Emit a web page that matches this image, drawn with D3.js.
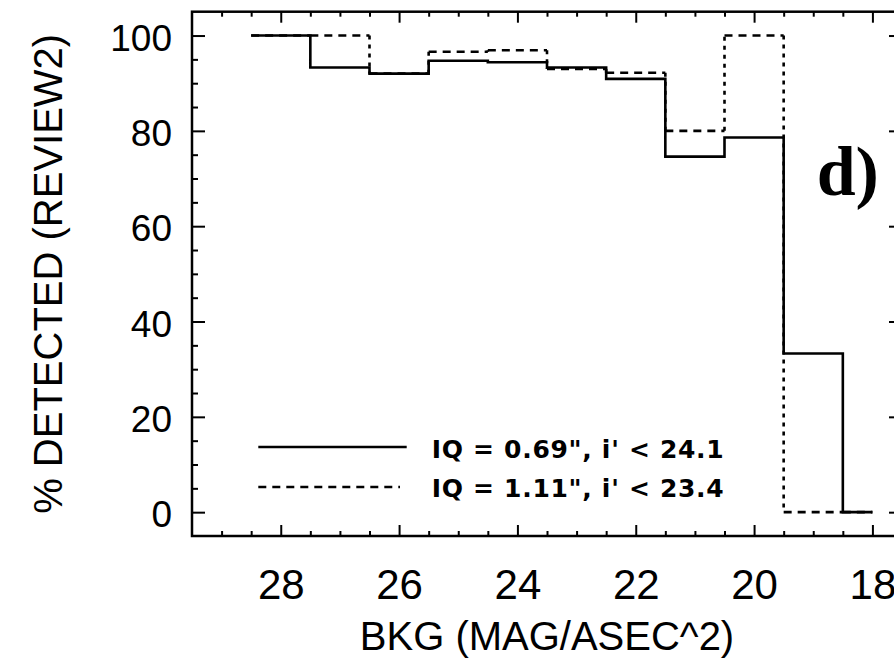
<!DOCTYPE html>
<html>
<head>
<meta charset="utf-8">
<script src="https://cdn.jsdelivr.net/npm/d3@7"></script>
<style>
  html, body { margin: 0; padding: 0; background: #fff; }
  svg { display: block; font-family: "Liberation Sans", Arial, sans-serif; }
</style>
</head>
<body>
<div id="chart"></div>
<script>
'use strict';

// bin centres (mag/asec^2) and % detected per bin
const binCenters = [28, 27, 26, 25, 24, 23, 22, 21, 20, 19, 18];
const pctIQ069 = [100, 93.3, 92.0, 94.7, 94.4, 93.3, 90.9, 74.6, 78.6, 33.3, 0];
const pctIQ111 = [100, 100, 92.0, 96.6, 96.9, 93.0, 92.2, 80.0, 100, 0, 0];
const seriesLabels = ['IQ = 0.69", i\' < 24.1', 'IQ = 1.11", i\' < 23.4'];
const xTickValues = [28, 26, 24, 22, 20, 18];
const yTickValues = [0, 20, 40, 60, 80, 100];
const panelLabel = 'd)';

(function() {

    let width = 894,
        height = 660,
        plot = { left: 192, right: 902, top: 11.7, bottom: 536 };

    let svg = d3.select('#chart')
        .append('svg')
        .attr('width', width)
        .attr('height', height);

    let x = d3.scaleLinear().domain([29.5, 17.5]).range([plot.left, plot.right]);
    let y = d3.scaleLinear().domain([-5, 105]).range([plot.bottom, plot.top]);

    let xMinor = d3.range(29, 17.5, -0.5).filter(v => v % 2 !== 0);
    let yMinor = d3.range(5, 105, 5).filter(v => v % 20 !== 0);

    function styleAxis(g) {
        g.select('.domain').remove();
        g.selectAll('.tick line').attr('stroke', '#000').attr('stroke-width', 2);
        g.attr('font-family', null).attr('font-size', null);
        g.selectAll('.tick text').attr('fill', '#000');
    }

    // bottom
    svg.append('g')
        .attr('transform', 'translate(0,' + plot.bottom + ')')
        .call(d3.axisBottom(x).tickValues(xTickValues).tickSize(-11).tickPadding(33).tickFormat(d3.format('d')))
        .call(styleAxis)
        .selectAll('.tick text').style('font-size', '42px');
    svg.append('g')
        .attr('transform', 'translate(0,' + plot.bottom + ')')
        .call(d3.axisBottom(x).tickValues(xMinor).tickSize(-5).tickFormat(''))
        .call(styleAxis);

    // top
    svg.append('g')
        .attr('transform', 'translate(0,' + plot.top + ')')
        .call(d3.axisTop(x).tickValues(xTickValues).tickSize(-11).tickFormat(''))
        .call(styleAxis);
    svg.append('g')
        .attr('transform', 'translate(0,' + plot.top + ')')
        .call(d3.axisTop(x).tickValues(xMinor).tickSize(-5).tickFormat(''))
        .call(styleAxis);

    // left
    svg.append('g')
        .attr('transform', 'translate(' + plot.left + ',0)')
        .call(d3.axisLeft(y).tickValues(yTickValues).tickSize(-13).tickPadding(20))
        .call(styleAxis)
        .selectAll('.tick text').style('font-size', '37px').attr('dy', '0.4em');
    svg.append('g')
        .attr('transform', 'translate(' + plot.left + ',0)')
        .call(d3.axisLeft(y).tickValues(yMinor).tickSize(-6).tickFormat(''))
        .call(styleAxis);

    // right
    svg.append('g')
        .attr('transform', 'translate(' + plot.right + ',0)')
        .call(d3.axisRight(y).tickValues(yTickValues).tickSize(-13).tickFormat(''))
        .call(styleAxis);
    svg.append('g')
        .attr('transform', 'translate(' + plot.right + ',0)')
        .call(d3.axisRight(y).tickValues(yMinor).tickSize(-6).tickFormat(''))
        .call(styleAxis);

    // frame
    svg.append('rect')
        .attr('x', plot.left)
        .attr('y', plot.top)
        .attr('width', plot.right - plot.left)
        .attr('height', plot.bottom - plot.top)
        .attr('fill', 'none')
        .attr('stroke', '#000')
        .attr('stroke-width', 2.5);

    // histogram steps: each bin runs from centre+0.5, the last one ends at its centre
    function stepPoints(values) {
        let pts = binCenters.map((c, i) => [c + 0.5, values[i]]);
        pts.push([binCenters[binCenters.length - 1], values[values.length - 1]]);
        return pts;
    }

    let line = d3.line()
        .x(d => x(d[0]))
        .y(d => y(d[1]));

    // dashed series: horizontal and vertical runs drawn apart, as the dashes differ
    let ptsB = stepPoints(pctIQ111);
    let hSegs = [], vSegs = [];
    for (let i = 0; i < ptsB.length - 1; i++) {
        hSegs.push([[ptsB[i][0], ptsB[i][1]], [ptsB[i + 1][0], ptsB[i][1]]]);
        if (i < ptsB.length - 2) {
            vSegs.push([[ptsB[i + 1][0], ptsB[i][1]], [ptsB[i + 1][0], ptsB[i + 1][1]]]);
        }
    }
    svg.append('g').selectAll('path.hdash')
        .data(hSegs)
        .enter().append('path')
        .attr('class', 'hdash')
        .attr('d', line)
        .attr('fill', 'none')
        .attr('stroke', '#000')
        .attr('stroke-width', 2.6)
        .attr('stroke-dasharray', '8,6');
    svg.append('g').selectAll('path.vdash')
        .data(vSegs)
        .enter().append('path')
        .attr('class', 'vdash')
        .attr('d', line)
        .attr('fill', 'none')
        .attr('stroke', '#000')
        .attr('stroke-width', 2.6)
        .attr('stroke-dasharray', '4,5');

    // solid series
    svg.append('path')
        .datum(stepPoints(pctIQ069))
        .attr('d', line.curve(d3.curveStepAfter))
        .attr('fill', 'none')
        .attr('stroke', '#000')
        .attr('stroke-width', 2.6);

    // legend
    let legend = svg.append('g');
    let legendRows = [
        { y: 447, dash: null, x2: 406.7, label: seriesLabels[0], base: 458.3 },
        { y: 487, dash: '8,6', x2: 400, label: seriesLabels[1], base: 496.7 }
    ];
    legendRows.forEach(r => {
        legend.append('line')
            .attr('x1', 258.3).attr('x2', r.x2)
            .attr('y1', r.y).attr('y2', r.y)
            .attr('stroke', '#000')
            .attr('stroke-width', 2.6)
            .attr('stroke-dasharray', r.dash);
        legend.append('text')
            .attr('x', 431.7)
            .attr('y', r.base)
            .attr('textLength', 292)
            .attr('lengthAdjust', 'spacing')
            .style('font-family', '"DejaVu Sans", sans-serif')
            .style('font-size', '25px')
            .style('font-weight', 'bold')
            .text(r.label);
    });

    // axis titles
    svg.append('text')
        .attr('x', (plot.left + plot.right) / 2)
        .attr('y', 650)
        .attr('text-anchor', 'middle')
        .style('font-size', '40px')
        .text('BKG (MAG/ASEC^2)');

    svg.append('text')
        .attr('transform', 'translate(62,' + ((plot.top + plot.bottom) / 2) + ') rotate(-90)')
        .attr('text-anchor', 'middle')
        .style('font-size', '40px')
        .text('% DETECTED (REVIEW2)');

    // panel label
    svg.append('text')
        .attr('x', 816.7)
        .attr('y', 195)
        .style('font-family', '"Liberation Serif", "Times New Roman", serif')
        .style('font-size', '70px')
        .style('font-weight', 'bold')
        .text(panelLabel);

})();
</script>
</body>
</html>
